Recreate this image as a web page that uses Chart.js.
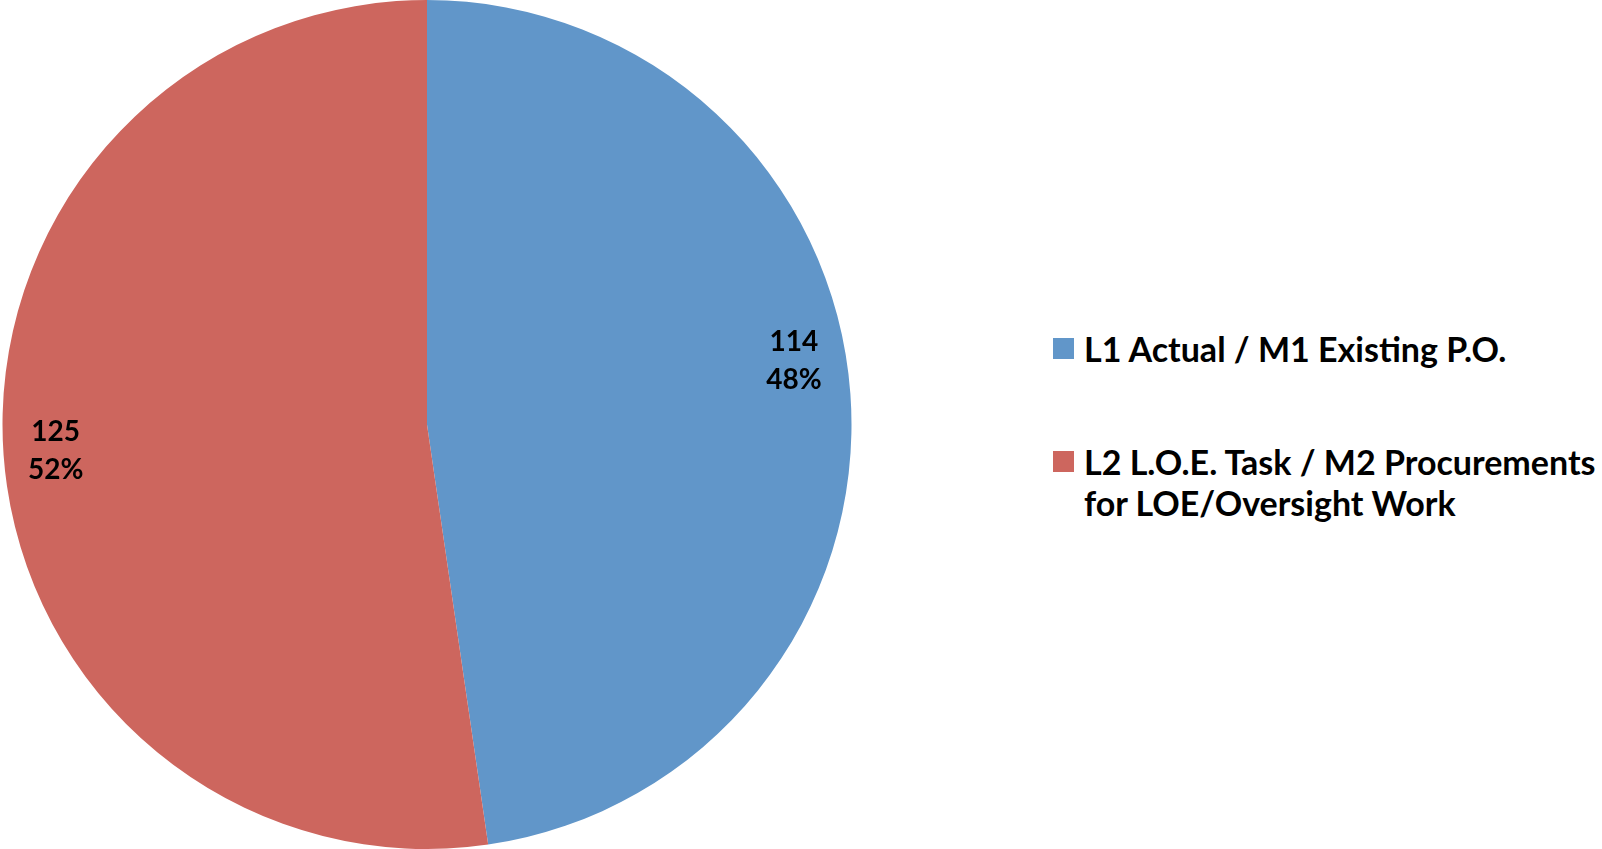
<!DOCTYPE html>
<html>
<head>
<meta charset="utf-8">
<script src="https://cdn.jsdelivr.net/npm/chart.js@4"></script>
<style>
  html, body { margin: 0; padding: 0; background: #fff; }
  #wrap { position: relative; width: 1602px; height: 849px; }
  #pieBox { position: absolute; left: 0; top: 0; width: 854px; height: 849px; }
  #legend { position: absolute; left: 1053px; top: 328px; font-family: Lato, sans-serif; font-weight: bold; font-size: 34px; color: #000; white-space: nowrap; }
  .item { display: flex; align-items: flex-start; margin-bottom: 72px; }
  .swatch { width: 21px; height: 21px; margin-top: 10px; margin-right: 10px; flex: none; }
  .txt { line-height: 41px; }
</style>
</head>
<body>
<div id="wrap">
  <div id="pieBox"><canvas id="pieChart"></canvas></div>
  <div id="legend"></div>
</div>
<script>
// Pie - L1/L2 split
const labels = ['L1 Actual / M1 Existing P.O.', 'L2 L.O.E. Task / M2 Procurements\nfor LOE/Oversight Work'];
const values = [114, 125];
const colors = ['#6196C9', '#CD665E'];

const total = values.reduce((a, b) => a + b, 0);

// value + percent labels inside each slice ("best fit" nudges the first one up a bit)
const sliceLabels = {
  id: 'sliceLabels',
  afterDatasetsDraw(chart, args, opts) {
    const ctx = chart.ctx;
    const meta = chart.getDatasetMeta(0);
    ctx.save();
    ctx.font = 'bold 28px Lato, sans-serif';
    ctx.fillStyle = '#000';
    ctx.textAlign = 'center';
    ctx.textBaseline = 'middle';
    meta.data.forEach((arc, i) => {
      const p = arc.getProps(['x', 'y', 'startAngle', 'endAngle', 'outerRadius'], true);
      const mid = (p.startAngle + p.endAngle) / 2 + (opts.shift[i] || 0);
      const r = p.outerRadius * 0.877;
      const x = p.x + Math.cos(mid) * r;
      const y = p.y + Math.sin(mid) * r;
      const pct = Math.round(values[i] / total * 100) + '%';
      ctx.fillText(String(values[i]), x, y - 19);
      ctx.fillText(pct, x, y + 19);
    });
    ctx.restore();
  }
};

new Chart(document.getElementById('pieChart'), {
  type: 'pie',
  data: {
    labels: labels,
    datasets: [{
      data: values,
      backgroundColor: colors,
      borderWidth: 0
    }]
  },
  options: {
    responsive: true,
    maintainAspectRatio: false,
    animation: false,
    layout: { padding: 0 },
    plugins: {
      legend: { display: false },
      tooltip: { enabled: false },
      sliceLabels: { shift: [-0.098, 0] }
    }
  },
  plugins: [sliceLabels]
});

// legend built from the same arrays
const legend = document.getElementById('legend');
labels.forEach((l, i) => {
  const item = document.createElement('div');
  item.className = 'item';
  const sw = document.createElement('div');
  sw.className = 'swatch';
  sw.style.background = colors[i];
  const t = document.createElement('div');
  t.className = 'txt';
  t.innerHTML = l.split('\n').join('<br>');
  item.appendChild(sw);
  item.appendChild(t);
  legend.appendChild(item);
});
</script>
</body>
</html>
